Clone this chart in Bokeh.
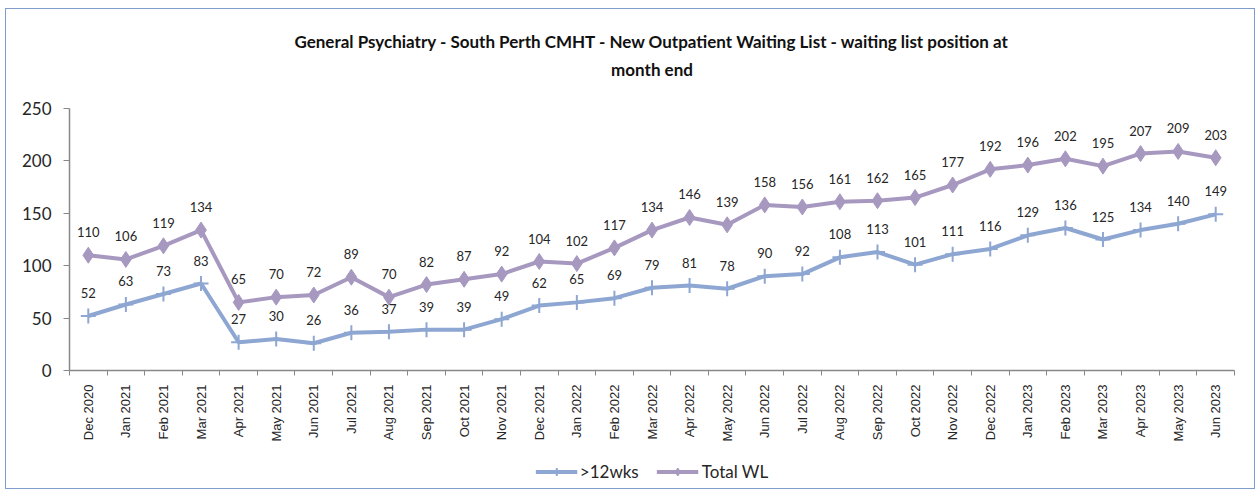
from bokeh.plotting import figure
from bokeh.layouts import column
from bokeh.models import (ColumnDataSource, FixedTicker, Legend, LegendItem,
                          LabelSet, Label, Range1d)
from bokeh.core.properties import value
from bokeh.embed import file_html
from bokeh.resources import INLINE
import math

months = ["Dec 2020", "Jan 2021", "Feb 2021", "Mar 2021", "Apr 2021", "May 2021", "Jun 2021",
          "Jul 2021", "Aug 2021", "Sep 2021", "Oct 2021", "Nov 2021", "Dec 2021", "Jan 2022",
          "Feb 2022", "Mar 2022", "Apr 2022", "May 2022", "Jun 2022", "Jul 2022", "Aug 2022",
          "Sep 2022", "Oct 2022", "Nov 2022", "Dec 2022", "Jan 2023", "Feb 2023", "Mar 2023",
          "Apr 2023", "May 2023", "Jun 2023"]
over_12wks = [52, 63, 73, 83, 27, 30, 26, 36, 37, 39, 39, 49, 62, 65, 69, 79, 81, 78, 90, 92,
              108, 113, 101, 111, 116, 129, 136, 125, 134, 140, 149]
total_wl = [110, 106, 119, 134, 65, 70, 72, 89, 70, 82, 87, 92, 104, 102, 117, 134, 146, 139,
            158, 156, 161, 162, 165, 177, 192, 196, 202, 195, 207, 209, 203]
y_ticks = [0, 50, 100, 150, 200, 250]
title_lines = ["General Psychiatry - South Perth CMHT - New Outpatient Waiting List - waiting list position at",
               "month end"]
series_names = [">12wks", "Total WL"]

BLUE = "#8ea6d2"
PURPLE = "#a798c0"
TXT = "#262626"
W = 1248

idx = list(range(len(months)))
src = ColumnDataSource(dict(x=idx, a=over_12wks, b=total_wl,
                            al=[str(v) for v in over_12wks], bl=[str(v) for v in total_wl]))

# ---- title strip ----
TH = 88
t = figure(width=W, height=TH, output_backend="svg", toolbar_location=None,
           x_range=Range1d(0, 1), y_range=Range1d(0, TH), x_axis_type=None, y_axis_type=None,
           min_border=0)
t.outline_line_color = None
t.grid.visible = False
for txt, from_top in zip(title_lines, (32, 60)):
    t.add_layout(Label(x=0.5, y=TH - from_top, text=txt, text_align="center",
                       text_baseline="middle", text_font="Lato", text_font_size="17px",
                       text_font_style="bold", text_color="#111111"))

# ---- main chart ----
p = figure(frame_width=1165, frame_height=262, output_backend="svg", toolbar_location=None,
           x_range=Range1d(-0.5, len(months) - 0.5), y_range=Range1d(0, 250),
           min_border_left=63, min_border_right=20, min_border_top=11, min_border_bottom=84)
p.outline_line_color = None
p.grid.visible = False

p.line("x", "a", source=src, line_color=BLUE, line_width=4)
p.scatter("x", "a", source=src, marker="cross", size=15, line_color=BLUE, line_width=2)
p.line("x", "b", source=src, line_color=PURPLE, line_width=4)
p.scatter("x", "b", source=src, marker="diamond", size=16, fill_color=PURPLE, line_color=PURPLE)

for col, lab in (("a", "al"), ("b", "bl")):
    p.add_layout(LabelSet(x="x", y=col, text=lab, source=src, y_offset=23, text_align="center",
                          text_baseline="middle", text_font=value("Lato"),
                          text_font_size=value("13px"), text_color=TXT))

xa = p.xaxis[0]
xa.ticker = FixedTicker(ticks=idx, minor_ticks=[i - 0.5 for i in range(len(months) + 1)])
xa.major_label_overrides = {i: m for i, m in enumerate(months)}
xa.major_label_orientation = math.pi / 2
xa.major_tick_in = 0
xa.major_tick_out = 0
xa.minor_tick_in = 0
xa.minor_tick_out = 5
xa.minor_tick_line_color = "#888888"
xa.axis_line_color = "#888888"
xa.axis_line_width = 1.5
xa.major_label_text_font = "Liberation Sans"
xa.major_label_text_font_size = "13px"
xa.major_label_text_color = TXT
xa.major_label_standoff = 9

ya = p.yaxis[0]
ya.ticker = FixedTicker(ticks=y_ticks)
ya.minor_tick_line_color = None
ya.major_tick_in = 0
ya.major_tick_out = 6
ya.major_tick_line_color = "#888888"
ya.axis_line_color = "#888888"
ya.axis_line_width = 1.5
ya.major_label_text_font = "Lato"
ya.major_label_text_font_size = "17px"
ya.major_label_text_color = TXT
ya.major_label_standoff = 12

# ---- legend strip (same series, drawn out of view so only the legend shows) ----
lg = figure(width=W, height=34, output_backend="svg", toolbar_location=None,
            x_range=Range1d(1000, 1001), y_range=Range1d(0, 250),
            x_axis_type=None, y_axis_type=None, min_border=0)
lg.outline_line_color = None
lg.grid.visible = False
r1 = lg.line("x", "a", source=src, line_color=BLUE, line_width=4)
s1 = lg.scatter("x", "a", source=src, marker="cross", size=15, line_color=BLUE, line_width=2)
r2 = lg.line("x", "b", source=src, line_color=PURPLE, line_width=4)
s2 = lg.scatter("x", "b", source=src, marker="diamond", size=16, fill_color=PURPLE,
                line_color=PURPLE)
legend = Legend(items=[LegendItem(label=series_names[0], renderers=[r1, s1]),
                       LegendItem(label=series_names[1], renderers=[r2, s2])],
                orientation="horizontal", location="center", border_line_color=None,
                background_fill_alpha=0, label_text_font="Lato", label_text_font_size="17px",
                label_text_color=TXT, glyph_width=42, label_standoff=3, spacing=18,
                margin=0, padding=2)
lg.add_layout(legend, "center")

layout = column(t, p, lg, spacing=0)
layout.margin = (8, 0, 0, 5)
layout.styles = {"border": "1px solid #7f9dcc"}

open("out.html", "w").write(file_html(layout, INLINE))
